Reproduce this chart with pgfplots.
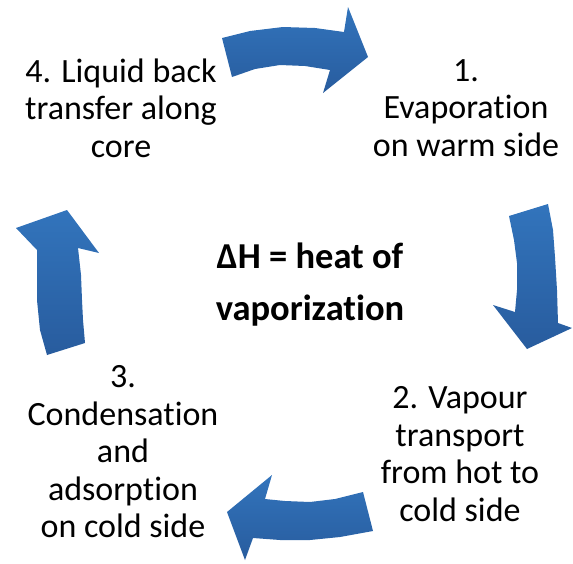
\documentclass[border=0pt]{standalone}
\usepackage{fontspec}
\setmainfont[Ligatures={NoCommon}]{Carlito}
\usepackage{pgfplots}
\pgfplotsset{compat=1.18}
\definecolor{arrtop}{RGB}{50,116,188}
\definecolor{arrbot}{RGB}{40,92,158}
\begin{document}
\begin{tikzpicture}
\begin{axis}[
  scale only axis, width=573pt, height=563pt,
  xmin=0, xmax=573, ymin=0, ymax=563, y dir=reverse,
  hide axis, clip=false]
% top arrow (4 -> 1)
\addplot[draw=none, top color=arrtop, bottom color=arrbot] coordinates {
 (222,38) (250,31) (283,27) (315,28) (344,32) (348,7) (368,57) (323,93) (330,70)
 (305,66) (280,65) (255,69) (232,77) (222,38)};
% right arrow (1 -> 2)
\addplot[draw=none, top color=arrtop, bottom color=arrbot] coordinates {
 (509,216) (548,204) (553,230) (555,257) (557,290) (558,323) (572,328) (527,349)
 (493,305) (515,312) (517,290) (517,263) (514,240) (509,216)};
% bottom arrow (2 -> 3)
\addplot[draw=none, top color=arrtop, bottom color=arrbot] coordinates {
 (363,492) (373,531) (340,537) (310,540) (280,540) (253,538) (245,560) (227,512)
 (272,475) (265,499) (285,501) (310,502) (335,499) (363,492)};
% left arrow (3 -> 4)
\addplot[draw=none, top color=arrtop, bottom color=arrbot] coordinates {
 (67,210) (99,253) (78,248) (81,275) (82,300) (83,320) (85,343) (47,355)
 (40,330) (37,300) (37,275) (37,250) (16,228) (67,210)};
\begin{scope}[every node/.style={align=center, inner sep=0pt, font=\fontsize{34}{37.5}\selectfont}]
\node at (axis cs:121,108) {4. Liquid back\\transfer along\\core};
\node at (axis cs:466,108) {1.\\Evaporation\\on warm side};
\node at (axis cs:460,454) {2. Vapour\\transport\\from hot to\\cold side};
\node at (axis cs:123,452) {3.\\Condensation\\and\\adsorption\\on cold side};
\node[font=\fontsize{36.5}{52}\selectfont\bfseries] at (axis cs:310,285) {ΔH = heat of\\vaporization};
\end{scope}
\end{axis}
\pgfresetboundingbox
\path[use as bounding box] (current axis.south west) rectangle (current axis.north east);
\end{tikzpicture}
\end{document}
